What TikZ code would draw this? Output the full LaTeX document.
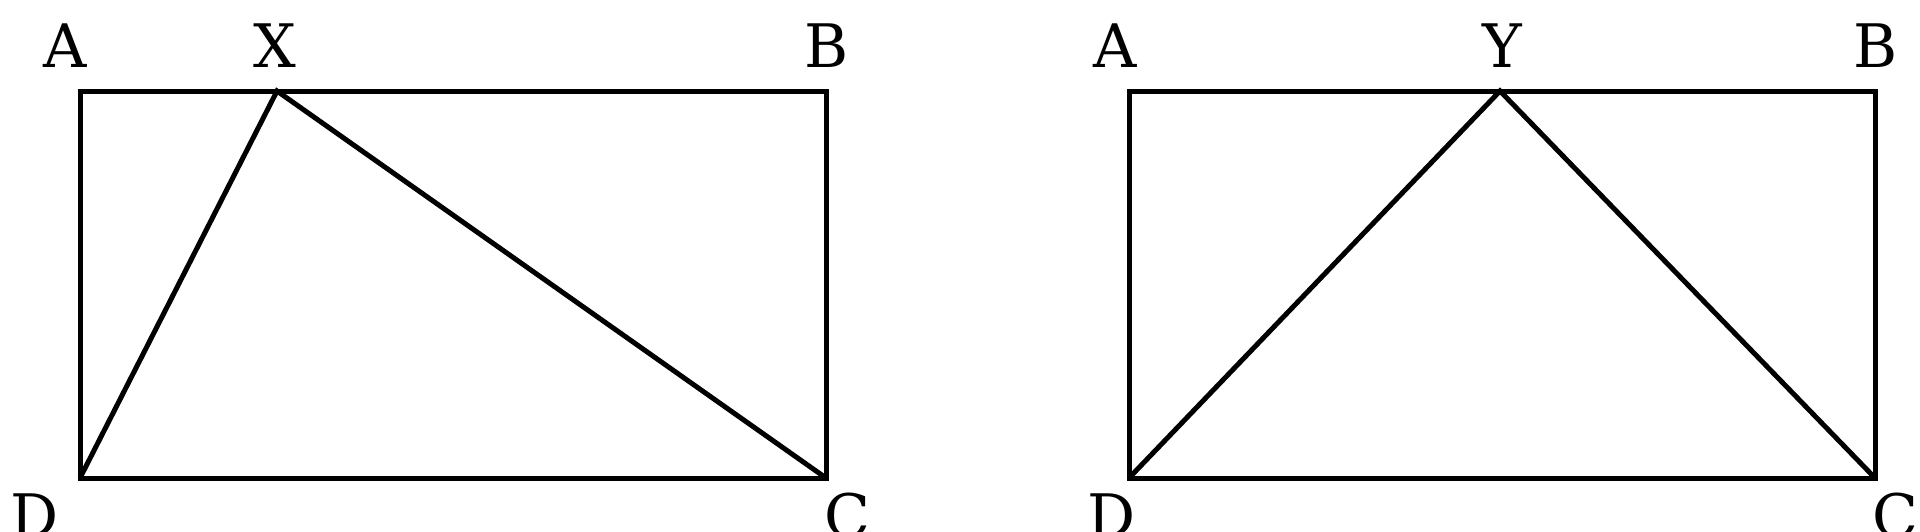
\documentclass[tikz,border=0pt]{standalone}
\usepackage{fontspec}
\setmainfont{DejaVu Serif}
\usepackage{tikz}

\tikzset{
  edge/.style={line width=2.5pt, line join=miter},
  lbl/.style={anchor=base, inner sep=0pt, font=\fontsize{30}{36}\selectfont}
}

\begin{document}
\begin{tikzpicture}[x=0.5pt,y=0.5pt,yscale=-1,xscale=1]
\useasboundingbox (0,0) rectangle (1920,531);

%left rectangle
\coordinate (A1) at (80,91);
\coordinate (B1) at (826,91);
\coordinate (C1) at (826,478);
\coordinate (D1) at (80,478);
\coordinate (X) at (277,91);
\draw [edge] (A1) -- (B1) -- (C1) -- (D1) -- cycle;
\draw [edge] (D1) -- (X) -- (C1);

\draw (65,67) node [lbl] (lA1) {A};
\draw (275,67) node [lbl] (lX) {X};
\draw (827,67) node [lbl] (lB1) {B};
\draw (35,537) node [lbl] (lD1) {D};
\draw (847,537) node [lbl] (lC1) {C};

%right rectangle
\coordinate (A2) at (1129,91);
\coordinate (B2) at (1875,91);
\coordinate (C2) at (1875,478);
\coordinate (D2) at (1129,478);
\coordinate (Y) at (1500,91);
\draw [edge] (A2) -- (B2) -- (C2) -- (D2) -- cycle;
\draw [edge] (D2) -- (Y) -- (C2);

\draw (1115,67) node [lbl] (lA2) {A};
\draw (1502,67) node [lbl] (lY) {Y};
\draw (1876,67) node [lbl] (lB2) {B};
\draw (1112,537) node [lbl] (lD2) {D};
\draw (1895,537) node [lbl] (lC2) {C};
\end{tikzpicture}
\end{document}
